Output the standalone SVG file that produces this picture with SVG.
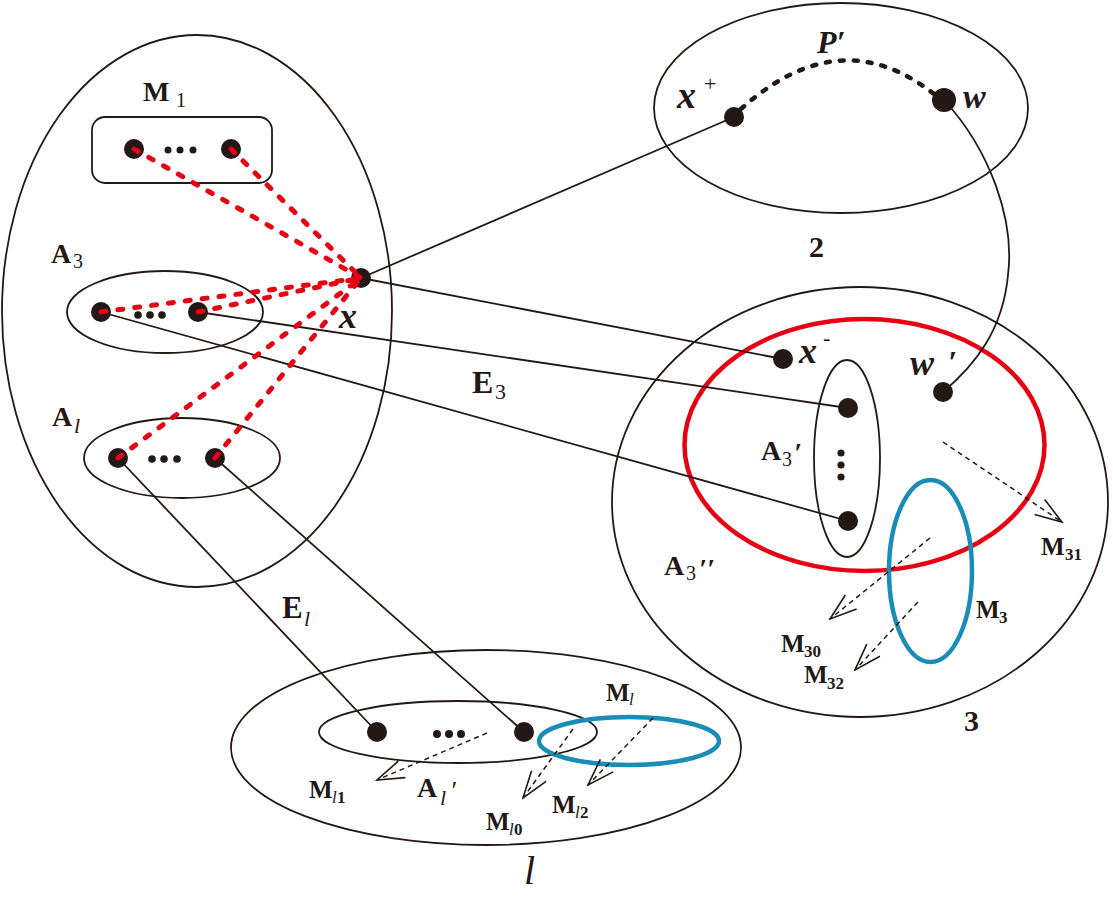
<svg xmlns="http://www.w3.org/2000/svg" width="1113" height="899" viewBox="0 0 1113 899">
<defs>
<style>
.o{fill:none;stroke:#231815;stroke-width:1.8}
.dot{fill:#231815}
.red{fill:none;stroke:#e60012;stroke-width:4.5}
.blue{fill:none;stroke:#1a8db6;stroke-width:4.5}
.ln{fill:none;stroke:#231815;stroke-width:1.8}
.rd{fill:none;stroke:#e60012;stroke-width:5;stroke-dasharray:5 12;stroke-linecap:round}
.pd{fill:none;stroke:#231815;stroke-width:4.5;stroke-dasharray:4 10;stroke-linecap:round}
.ar{fill:none;stroke:#231815;stroke-width:1.5;stroke-dasharray:5 4;marker-end:url(#v)}
.b{font-family:"Liberation Serif","Times New Roman",serif;font-weight:bold;fill:#231815}
.n{font-family:"Liberation Serif","Times New Roman",serif;font-weight:normal;font-style:normal;fill:#231815}
.i{font-family:"Liberation Serif","Times New Roman",serif;font-style:italic;fill:#231815}
.bi{font-family:"Liberation Serif","Times New Roman",serif;font-style:italic;font-weight:bold;fill:#231815}
</style>
<marker id="v" viewBox="0 0 30 20" refX="28" refY="10" markerWidth="30" markerHeight="20" markerUnits="userSpaceOnUse" orient="auto">
<path d="M1,1 L28,10 L1,19" fill="none" stroke="#231815" stroke-width="1.6"/>
</marker>
</defs>
<rect width="1113" height="899" fill="#ffffff"/>

<g id="region-1">
<ellipse class="o" cx="197" cy="311" rx="195" ry="276"/>
</g>

<g id="M1">
<rect class="o" x="92" y="117" width="180" height="66" rx="13"/>
<circle class="dot" cx="134" cy="149" r="10"/>
<circle class="dot" cx="231" cy="149" r="10"/>
<circle class="dot" cx="168" cy="150" r="3.5"/>
<circle class="dot" cx="180" cy="150" r="3.5"/>
<circle class="dot" cx="193" cy="150" r="3.5"/>
<text class="b" x="143" y="101" font-size="28">M<tspan class="n" x="176" y="107" font-size="20">1</tspan></text>
</g>

<g id="A3">
<ellipse class="o" cx="165" cy="312" rx="98" ry="41"/>
<circle class="dot" cx="101" cy="312" r="10"/>
<circle class="dot" cx="198" cy="312" r="10"/>
<circle class="dot" cx="138" cy="315" r="3.8"/>
<circle class="dot" cx="150" cy="315" r="3.8"/>
<circle class="dot" cx="162" cy="315" r="3.8"/>
<text class="b" x="51" y="263" font-size="28">A<tspan class="n" x="73" y="268" font-size="20">3</tspan></text>
</g>

<g id="Al">
<ellipse class="o" cx="182" cy="458" rx="98" ry="40"/>
<circle class="dot" cx="118" cy="458" r="10"/>
<circle class="dot" cx="215" cy="458" r="10"/>
<circle class="dot" cx="152" cy="459" r="3.8"/>
<circle class="dot" cx="164" cy="459" r="3.8"/>
<circle class="dot" cx="177" cy="459" r="3.8"/>
<text class="b" x="52" y="426" font-size="28">A<tspan class="i" x="74" y="433" font-size="22" font-weight="normal">l</tspan></text>
</g>

<g id="node-x">
<circle class="dot" cx="361" cy="278" r="10"/>
<text class="bi" x="339" y="328" font-size="36">x</text>
</g>

<g id="region-2">
<ellipse class="o" cx="841" cy="108" rx="187" ry="105"/>
<text class="b" x="809" y="257" font-size="30">2</text>
<text class="bi" x="817" y="53" font-size="32">P′</text>
</g>

<g id="node-xplus">
<circle class="dot" cx="734" cy="117" r="10"/>
<text class="bi" x="677" y="108" font-size="38">x<tspan class="n" x="704" y="91" font-size="22">+</tspan></text>
</g>

<g id="node-w">
<circle class="dot" cx="944" cy="100" r="12"/>
<text class="bi" x="963" y="108" font-size="34">w</text>
</g>

<g id="region-3">
<ellipse class="o" cx="860" cy="502" rx="248" ry="215"/>
<text class="b" x="964" y="731" font-size="30">3</text>
</g>

<g id="A3-double-prime">
<ellipse class="red" cx="864.5" cy="445" rx="180" ry="126"/>
<text class="b" x="664" y="575" font-size="28">A<tspan class="n" x="686" y="580" font-size="20">3</tspan><tspan class="bi" x="699" y="578" font-size="28">′′</tspan></text>
</g>

<g id="node-xminus">
<circle class="dot" cx="783" cy="359" r="10"/>
<text class="bi" x="799" y="363" font-size="36">x<tspan class="n" x="823" y="345" font-size="22">-</tspan></text>
</g>

<g id="node-wprime">
<circle class="dot" cx="943" cy="392" r="10"/>
<text class="bi" x="910" y="375" font-size="36">w<tspan class="i" x="940" y="373" font-size="32"> ′</tspan></text>
</g>

<g id="A3-prime">
<ellipse class="o" cx="847" cy="458.5" rx="33" ry="98.5"/>
<circle class="dot" cx="848" cy="408" r="10"/>
<circle class="dot" cx="848" cy="521" r="10"/>
<circle class="dot" cx="841" cy="453" r="3.6"/>
<circle class="dot" cx="841" cy="465" r="3.6"/>
<circle class="dot" cx="841" cy="477" r="3.6"/>
<text class="b" x="761" y="460" font-size="28">A<tspan class="n" x="782" y="466" font-size="20">3</tspan><tspan class="bi" x="794" y="462" font-size="28">′</tspan></text>
</g>

<g id="M3">
<ellipse class="blue" cx="930.5" cy="571" rx="41.5" ry="91"/>
<text class="b" x="976" y="618" font-size="25">M<tspan x="999" y="623" font-size="17">3</tspan></text>
<text class="b" x="1041" y="555" font-size="25">M<tspan x="1065" y="560" font-size="17">31</tspan></text>
<text class="b" x="781" y="652" font-size="25">M<tspan x="804" y="657" font-size="17">30</tspan></text>
<text class="b" x="804" y="683" font-size="25">M<tspan x="827" y="689" font-size="17">32</tspan></text>
</g>

<g id="region-l">
<ellipse class="o" cx="486" cy="747.5" rx="255" ry="97.5"/>
<text class="i" x="524" y="884" font-size="40">l</text>
</g>

<g id="Al-prime">
<ellipse class="o" cx="458" cy="732" rx="139" ry="31"/>
<circle class="dot" cx="377" cy="732" r="10"/>
<circle class="dot" cx="524" cy="732" r="10"/>
<circle class="dot" cx="437" cy="734" r="4"/>
<circle class="dot" cx="449" cy="734" r="4"/>
<circle class="dot" cx="461" cy="734" r="4"/>
<text class="b" x="417" y="797" font-size="28">A<tspan class="i" x="440" y="805" font-size="22" font-weight="normal">l</tspan><tspan class="i" x="450" y="799" font-size="26" font-weight="normal">′</tspan></text>
</g>

<g id="Ml">
<ellipse class="blue" cx="629" cy="741" rx="90" ry="24"/>
<text class="b" x="606" y="701" font-size="25">M<tspan class="i" x="629" y="705" font-size="17" font-weight="normal">l</tspan></text>
<text class="b" x="309" y="798" font-size="25">M<tspan class="i" x="332" y="803" font-size="17" font-weight="normal">l</tspan><tspan x="337" y="803" font-size="17">1</tspan></text>
<text class="b" x="486" y="830" font-size="25">M<tspan class="i" x="509" y="835" font-size="17" font-weight="normal">l</tspan><tspan x="514" y="835" font-size="17">0</tspan></text>
<text class="b" x="552" y="813" font-size="25">M<tspan class="i" x="575" y="818" font-size="17" font-weight="normal">l</tspan><tspan x="580" y="818" font-size="17">2</tspan></text>
</g>

<g id="edge-labels">
<text class="b" x="472" y="393" font-size="32">E<tspan class="n" x="495" y="399" font-size="22">3</tspan></text>
<text class="b" x="282" y="618" font-size="31">E<tspan class="i" x="304" y="626" font-size="22" font-weight="normal">l</tspan></text>
</g>

<g id="connectors">
<line class="ln" x1="361" y1="278" x2="734" y2="117"/>
<line class="ln" x1="361" y1="278" x2="783" y2="359"/>
<line class="ln" x1="198" y1="312" x2="848" y2="408"/>
<line class="ln" x1="101" y1="312" x2="848" y2="521"/>
<line class="ln" x1="118" y1="458" x2="377" y2="732"/>
<line class="ln" x1="215" y1="458" x2="524" y2="732"/>
<path class="ln" d="M944,100 C990,150 1015,220 1008,275 C1003,330 975,365 943,392"/>
<path class="pd" d="M741,109 Q840,20 934,94"/>
<line class="rd" x1="134" y1="149" x2="361" y2="278"/>
<line class="rd" x1="231" y1="149" x2="361" y2="278"/>
<line class="rd" x1="101" y1="312" x2="361" y2="278"/>
<line class="rd" x1="198" y1="312" x2="361" y2="278"/>
<line class="rd" x1="118" y1="458" x2="361" y2="278"/>
<line class="rd" x1="215" y1="458" x2="361" y2="278"/>
<line class="ar" x1="943" y1="442" x2="1062" y2="522"/>
<line class="ar" x1="930" y1="538" x2="830" y2="619"/>
<line class="ar" x1="918" y1="602" x2="855" y2="670"/>
<line class="ar" x1="487" y1="733" x2="377" y2="780"/>
<line class="ar" x1="573" y1="729" x2="523" y2="798"/>
<line class="ar" x1="653" y1="718" x2="588" y2="785"/>
</g>
</svg>
